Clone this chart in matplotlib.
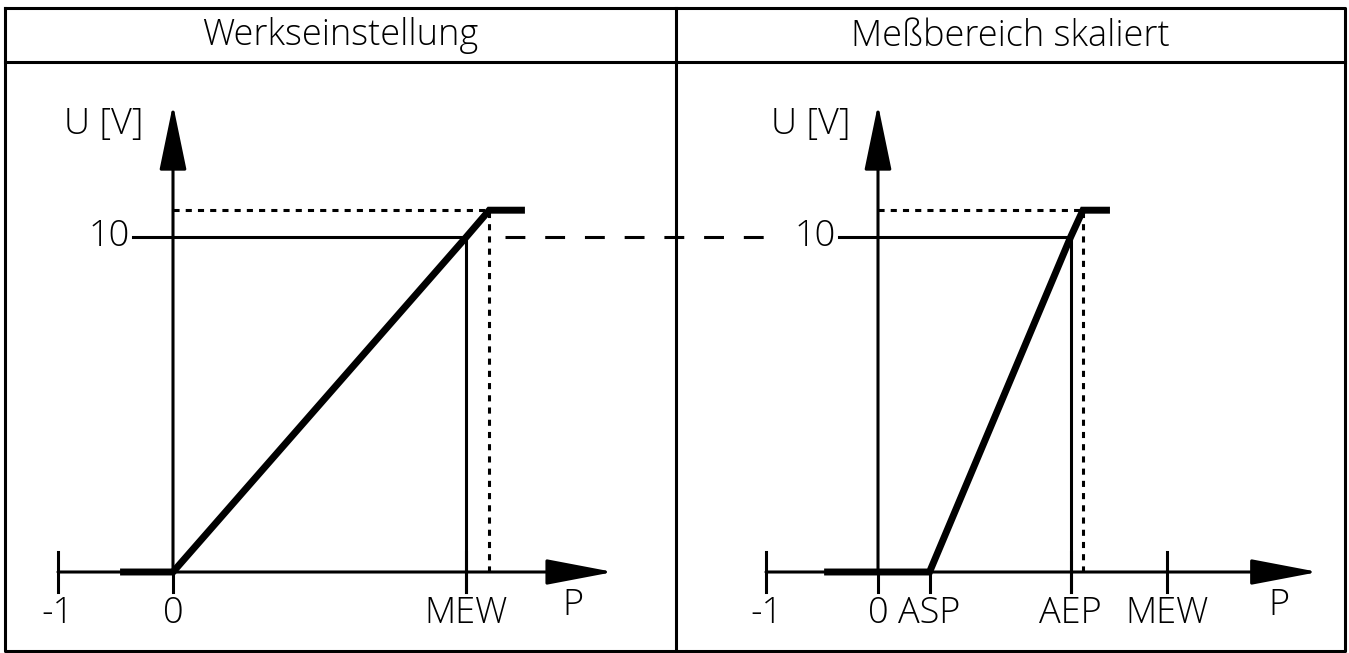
import matplotlib
matplotlib.use("Agg")
import matplotlib.pyplot as plt

plt.rcParams['font.family'] = ['Open Sans', 'DejaVu Sans']
plt.rcParams['font.weight'] = 300

W, H = 1349, 653
FS = 26
LW = 2.2

titles = ['Werkseinstellung', 'Meßbereich skaliert']

# left panel: factory setting, P in units where 0..-1 is one step
left_ticks = [-1, 0, 2.55]
left_tick_labels = ['-1', '0', 'MEW']
left_curve_p = [-0.43, 0, 2.55, 2.75, 3.03]
left_curve_u = [0, 0, 10, 10.8, 10.8]
left_mew = 2.55
left_clip = 2.75

# right panel: scaled range
right_ticks = [-1, 0, 0.46, 1.72, 2.58]
right_tick_labels = ['-1', '0', 'ASP', 'AEP', 'MEW']
right_curve_p = [-0.45, 0, 0.46, 1.72, 1.83, 2.04]
right_curve_u = [0, 0, 0, 10, 10.8, 10.8]
right_aep = 1.72
right_clip = 1.83

u_full = 10
u_max = 10.8

fig = plt.figure(figsize=(W / 100, H / 100), dpi=100)

# frame
frame = fig.add_axes([0, 0, 1, 1])
frame.set_xlim(0, W)
frame.set_ylim(H, 0)
frame.axis('off')
kw = dict(color='black', lw=LW, solid_capstyle='projecting')
frame.plot([5, 1345, 1345, 5, 5], [8, 8, 651, 651, 8], **kw)
frame.plot([5, 1345], [62, 62], **kw)
frame.plot([676, 676], [8, 651], **kw)
frame.text(340, 36, titles[0], fontsize=FS, ha='center', va='center')
frame.text(1010, 36, titles[1], fontsize=FS, ha='center', va='center')


def panel(ox, oy, sx, sy, xmin, xmax, ymin, ymax):
    # place axes so that data (0,0) sits at pixel (ox, oy)
    left = (ox + xmin * sx) / W
    width = (xmax - xmin) * sx / W
    bottom = (H - oy + ymin * sy) / H
    height = (ymax - ymin) * sy / H
    ax = fig.add_axes([left, bottom, width, height])
    ax.set_xlim(xmin, xmax)
    ax.set_ylim(ymin, ymax)
    ax.axis('off')
    return ax


def draw_axes(ax, ticks, labels, below_only, x_end, y_end):
    # P axis
    ax.annotate('', xy=(x_end, 0), xytext=(-1, 0),
                arrowprops=dict(arrowstyle='-|>,head_length=42,head_width=8',
                                mutation_scale=1, lw=LW, color='black',
                                shrinkA=0, shrinkB=0))
    # U axis
    ax.annotate('', xy=(0, y_end), xytext=(0, 0),
                arrowprops=dict(arrowstyle='-|>,head_length=41,head_width=8.5',
                                mutation_scale=1, lw=LW, color='black',
                                shrinkA=0, shrinkB=0))
    for t, lab in zip(ticks, labels):
        top = 0 if lab in below_only else 0.6
        ax.plot([t, t], [-0.6, top], color='black', lw=LW)
        ax.text(t, -1.52, lab, fontsize=FS, ha='center', va='baseline')
    ax.text(x_end - 0.35, -1.28, 'P', fontsize=FS, ha='center', va='baseline')
    ax.text(-0.6, 13.35, 'U [V]', fontsize=FS, ha='center', va='center')
    ax.text(-0.38, u_full, '10', fontsize=FS, ha='right', va='center')


# left panel
axl = panel(173, 572, 115, 33.5, -1.5, 4.3, -2.5, 15)
draw_axes(axl, left_ticks, left_tick_labels, ['0'], 3.83, 13.95)
axl.plot([-0.35, left_mew], [u_full, u_full], color='black', lw=LW)
axl.plot([left_mew, left_mew], [-0.6, u_full], color='black', lw=LW)
axl.plot([0, left_clip], [u_max, u_max], color='black', lw=LW, ls=(0, (2, 2)))
axl.plot([left_clip, left_clip], [0, u_max], color='black', lw=LW, ls=(0, (2, 2)))
axl.plot(left_curve_p, left_curve_u, color='black', lw=5, solid_joinstyle='miter')
axl.plot([2.89, 5.15], [u_full, u_full], color='black', lw=LW,
         ls=(0, (6.5, 6.5)), clip_on=False)

# right panel
axr = panel(878, 572, 112, 33.5, -1.5, 4.3, -2.5, 15)
draw_axes(axr, right_ticks, right_tick_labels, ['0', 'ASP'], 3.93, 13.95)
axr.plot([-0.35, right_aep], [u_full, u_full], color='black', lw=LW)
axr.plot([right_aep, right_aep], [-0.6, u_full], color='black', lw=LW)
axr.plot([0, right_clip], [u_max, u_max], color='black', lw=LW, ls=(0, (2, 2)))
axr.plot([right_clip, right_clip], [0, u_max], color='black', lw=LW, ls=(0, (2, 2)))
axr.plot(right_curve_p, right_curve_u, color='black', lw=5, solid_joinstyle='miter')

fig.savefig('out.png', dpi=100)
